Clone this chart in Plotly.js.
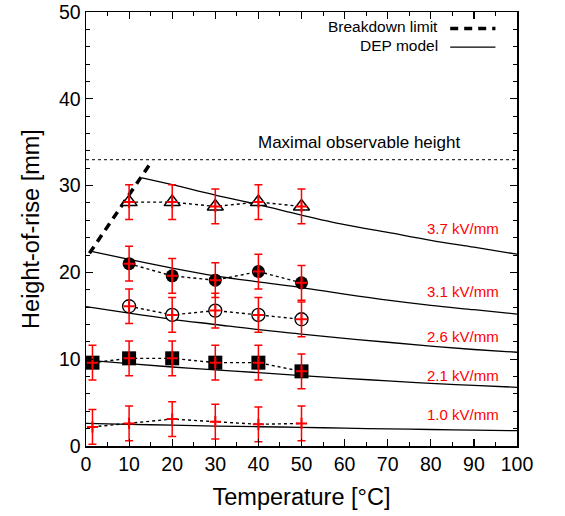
<!DOCTYPE html>
<html>
<head>
<meta charset="utf-8">
<script src="https://cdn.plot.ly/plotly-3.0.1.min.js"></script>
<style>html,body{margin:0;padding:0;background:#fff;}#chart{width:565px;height:516px;}</style>
</head>
<body>
<div id="chart"></div>
<script>
// ---- measured data ----
const tempA = [1.5, 10, 20, 30, 40, 50];      // series with a 1.5 °C point
const tempB = [10, 20, 30, 40, 50];            // series starting at 10 °C

const h10 = [2.2, 2.6, 3.1, 2.8, 2.5, 2.6];    // 1.0 kV/mm
const h21 = [9.6, 10.1, 10.1, 9.6, 9.6, 8.6];  // 2.1 kV/mm
const h26 = [16.1, 15.1, 15.6, 15.1, 14.6];    // 2.6 kV/mm
const h31 = [21.0, 19.6, 19.1, 20.1, 18.8];    // 3.1 kV/mm
const h37 = [28.1, 28.1, 27.6, 28.1, 27.6];    // 3.7 kV/mm

const err10 = [2, 2, 2, 2, 2, 2];
const err21 = [2, 2, 2, 2, 2, 2];
const err26 = [2, 2, 2, 2, 2];
const err31 = [2, 2, 2, 2, 2];
const err37 = [2, 2, 2, 2, 2];

// DEP model curves
const modelT   = [0, 10, 20, 30, 40, 50, 60, 70, 80, 90, 100];
const model10  = [2.6, 2.5, 2.4, 2.3, 2.22, 2.15, 2.05, 1.97, 1.9, 1.82, 1.76];
const model21  = [9.9, 9.5, 9.1, 8.78, 8.45, 8.1, 7.8, 7.5, 7.22, 6.98, 6.76];
const model26  = [16.05, 15.3, 14.6, 14.0, 13.4, 12.9, 12.4, 11.95, 11.5, 11.12, 10.8];
const model31T = [1.5, 10, 20, 30, 40, 50, 60, 70, 80, 90, 100];
const model31  = [22.4, 21.5, 20.5, 19.6, 18.9, 18.25, 17.5, 16.8, 16.2, 15.7, 15.2];
const model37T = [13, 20, 30, 40, 50, 60, 70, 80, 90, 100];
const model37  = [30.9, 30.1, 28.9, 27.8, 26.6, 25.5, 24.6, 23.7, 22.9, 22.1];

// breakdown limit and maximal observable height
const breakT = [0.8, 15.4];
const breakH = [22.2, 32.9];
const maxT = [0, 100];
const maxH = [33, 33];

const fieldLabels = ['3.7 kV/mm', '3.1 kV/mm', '2.6 kV/mm', '2.1 kV/mm', '1.0 kV/mm'];
const labelT = 96.4;
const labelH = [25.1, 17.8, 12.6, 8.1, 3.6];

const FONT = '"Liberation Sans", Arial, sans-serif';
const traces = [];

// model curves
[[modelT, model10], [modelT, model21], [modelT, model26], [model31T, model31], [model37T, model37]].forEach(([x, y]) => {
  traces.push({x: x, y: y, mode: 'lines', line: {color: 'black', width: 1.3, shape: 'spline'}, hoverinfo: 'skip', showlegend: false});
});

// breakdown limit
traces.push({x: breakT, y: breakH, mode: 'lines', line: {color: 'black', width: 3.5, dash: '8px,6px'}, showlegend: false});
// maximal observable height
traces.push({x: maxT, y: maxH, mode: 'lines', line: {color: '#333', width: 1.2, dash: 'dot'}, showlegend: false});

// measured series (black markers, dotted connection)
const series = [
  {x: tempA, y: h10, e: err10, sym: 'cross-thin', size: 1, fill: 'red', lw: 0},
  {x: tempA, y: h21, e: err21, sym: 'square', size: 14, fill: 'black', lw: 0},
  {x: tempB, y: h26, e: err26, sym: 'circle', size: 13, fill: 'white', lw: 1.3},
  {x: tempB, y: h31, e: err31, sym: 'circle', size: 13, fill: 'black', lw: 0},
  {x: tempB, y: h37, e: err37, sym: 'triangle-up', size: 14, fill: 'white', lw: 1.5}
];
series.forEach(s => {
  traces.push({x: s.x, y: s.y, mode: 'lines+markers',
    line: {color: 'black', width: 1.4, dash: 'dot'},
    marker: {symbol: s.sym, size: s.size, color: s.fill, line: {color: 'black', width: s.lw}},
    showlegend: false});
});
// red error bars with plus points
series.forEach(s => {
  traces.push({x: s.x, y: s.y, mode: 'markers',
    marker: {symbol: 'cross-thin', size: 8, color: 'red', line: {color: 'red', width: 2}},
    error_y: {type: 'data', array: s.e, visible: true, color: 'red', thickness: 1.5, width: 4},
    showlegend: false});
});

const annotations = fieldLabels.map((t, i) => ({
  x: labelT, y: labelH[i], xref: 'x', yref: 'y', text: t, showarrow: false,
  xanchor: 'right', yanchor: 'middle', font: {family: FONT, size: 15, color: 'red'}
}));
annotations.push({x: 0.634, y: 0.70, xref: 'paper', yref: 'paper', text: 'Maximal observable height', showarrow: false,
  xanchor: 'center', yanchor: 'middle', font: {family: FONT, size: 17, color: 'black'}});
annotations.push({x: 0.818, y: 0.966, xref: 'paper', yref: 'paper', text: 'Breakdown limit', showarrow: false,
  xanchor: 'right', yanchor: 'middle', borderpad: 0, font: {family: FONT, size: 15.5, color: 'black'}});
annotations.push({x: 0.818, y: 0.923, xref: 'paper', yref: 'paper', text: 'DEP model', showarrow: false,
  xanchor: 'right', yanchor: 'middle', borderpad: 0, font: {family: FONT, size: 15.5, color: 'black'}});

const shapes = [
  {type: 'line', xref: 'paper', yref: 'paper', x0: 0.845, x1: 0.95, y0: 0.962, y1: 0.962, line: {color: 'black', width: 3.5, dash: '8px,6px'}},
  {type: 'line', xref: 'paper', yref: 'paper', x0: 0.845, x1: 0.95, y0: 0.919, y1: 0.919, line: {color: 'black', width: 1.3}}
];

const axisCommon = {
  showgrid: false, zeroline: false, showline: true, linecolor: 'black', linewidth: 1.5,
  mirror: 'allticks', ticks: 'inside', ticklen: 7, tickwidth: 1.2, tickcolor: 'black',
  tickfont: {family: FONT, size: 19.5, color: 'black'}
};

const layout = {
  width: 565, height: 516,
  margin: {l: 86, r: 48, t: 12, b: 70},
  paper_bgcolor: 'white', plot_bgcolor: 'white',
  showlegend: false,
  xaxis: Object.assign({}, axisCommon, {
    range: [0, 100], dtick: 10, tick0: 0,
    minor: {dtick: 5, ticks: 'inside', ticklen: 4, tickcolor: 'black', tickwidth: 1},
    title: {text: 'Temperature [°C]', font: {family: FONT, size: 23.5, color: 'black'}, standoff: 14}
  }),
  yaxis: Object.assign({}, axisCommon, {
    range: [0, 50], dtick: 10, tick0: 0,
    minor: {dtick: 2, ticks: 'inside', ticklen: 4, tickcolor: 'black', tickwidth: 1},
    title: {text: 'Height-of-rise [mm]', font: {family: FONT, size: 23.5, color: 'black'}, standoff: 12}
  }),
  annotations: annotations,
  shapes: shapes
};

Plotly.newPlot('chart', traces, layout, {displayModeBar: false, staticPlot: true});
</script>
</body>
</html>
